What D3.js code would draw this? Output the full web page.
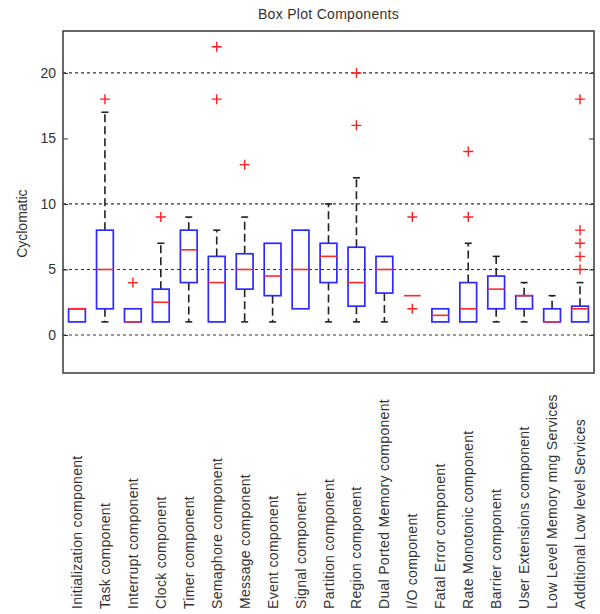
<!DOCTYPE html>
<html>
<head>
<meta charset="utf-8">
<script src="https://cdn.jsdelivr.net/npm/d3@7"></script>
<style>
  body { margin: 0; background: #fff; }
  text { font-family: "Liberation Sans", Arial, sans-serif; fill: #333; }
</style>
</head>
<body>
<div id="chart"></div>
<script>
// Box plot data, one entry per component
var categories = [
    "Initialization component", "Task component", "Interrupt component", "Clock component",
    "Timer component", "Semaphore component", "Message component", "Event component",
    "Signal component", "Partition component", "Region component", "Dual Ported Memory component",
    "I/O component", "Fatal Error component", "Rate Monotonic component", "Barrier component",
    "User Extensions component", "Low Level Memory mng Services", "Additional Low level Services"
];
var q1Values      = [1, 2, 1, 1,   4, 1, 3.5, 3,   2, 4, 2.2, 3.2, 3, 1,   1, 2,   2, 1, 1];
var medianValues  = [2, 5, 1, 2.5, 6.5, 4, 5, 4.5, 5, 6, 4,   5,   3, 1.5, 2, 3.5, 3, 1, 2];
var q3Values      = [2, 8, 2, 3.5, 8, 6, 6.2, 7,   8, 7, 6.7, 6,   3, 2,   4, 4.5, 3, 2, 2.2];
var whiskerLow    = [1, 1, 1, 1,   1, 1, 1,   1,   2, 1, 1,   1,   3, 1,   1, 1,   1, 1, 1];
var whiskerHigh   = [2, 17, 2, 7,  9, 8, 9,   7,   8, 10, 12, 6,   3, 2,   7, 6,   4, 3, 4];
var outliers = [
    [], [18], [4], [9], [], [18, 22], [13], [], [], [], [16, 20], [],
    [9, 2], [], [9, 14], [], [], [], [5, 6, 7, 8, 18]
];
var yTicks = [0, 5, 10, 15, 20];
var gridValues = [0, 5, 10, 20];

function createBoxPlot() {
    var margin = { top: 31, right: 6, bottom: 241, left: 63 };
    var width = 600 - margin.left - margin.right;
    var height = 614 - margin.top - margin.bottom;

    var svg = d3.select("#chart")
        .append("svg")
        .attr("width", 600)
        .attr("height", 614);

    var g = svg.append("g")
        .attr("transform", "translate(" + margin.left + "," + margin.top + ")");

    var xScale = d3.scaleBand()
        .domain(categories)
        .range([0, width]);

    var yScale = d3.scaleLinear()
        .domain([-2.9, 23.2])
        .range([height, 0]);

    var boxW = xScale.bandwidth() * 0.6;
    var capW = 7;

    // grid lines
    g.selectAll(".grid")
        .data(gridValues)
        .enter()
        .append("line")
        .attr("x1", 0).attr("x2", width)
        .attr("y1", function (d) { return yScale(d); })
        .attr("y2", function (d) { return yScale(d); })
        .style("stroke", "#333")
        .style("stroke-width", 1.2)
        .style("stroke-dasharray", "3,3");

    // y axis with inward ticks
    var yAxis = g.append("g")
        .call(d3.axisLeft(yScale).tickValues(yTicks).tickSize(-5).tickPadding(7));
    yAxis.select(".domain").remove();
    yAxis.selectAll("line").style("stroke", "#333");
    yAxis.selectAll("text")
        .style("font-size", "14px")
        .style("fill", "#333")
        .style("font-family", "Liberation Sans, Arial, sans-serif");

    g.append("g")
        .attr("transform", "translate(" + width + ",0)")
        .call(d3.axisRight(yScale).tickValues(yTicks).tickSize(-5).tickFormat(""))
        .call(function (a) { a.select(".domain").remove(); a.selectAll("line").style("stroke", "#333"); });

    var boxes = g.selectAll(".box")
        .data(categories)
        .enter()
        .append("g")
        .attr("transform", function (d) { return "translate(" + (xScale(d) + xScale.bandwidth() / 2) + ",0)"; });

    // whiskers
    boxes.each(function (d, i) {
        var b = d3.select(this);
        var parts = [];
        if (whiskerHigh[i] > q3Values[i]) parts.push([q3Values[i], whiskerHigh[i]]);
        if (whiskerLow[i] < q1Values[i]) parts.push([q1Values[i], whiskerLow[i]]);
        parts.forEach(function (p) {
            b.append("line")
                .attr("x1", 0).attr("x2", 0)
                .attr("y1", yScale(p[0])).attr("y2", yScale(p[1]))
                .style("stroke", "#222")
                .style("stroke-width", 1.6)
                .style("stroke-dasharray", "8,4");
            b.append("line")
                .attr("x1", -capW / 2).attr("x2", capW / 2)
                .attr("y1", yScale(p[1])).attr("y2", yScale(p[1]))
                .style("stroke", "#222")
                .style("stroke-width", 1.6);
        });
    });

    boxes.append("rect")
        .attr("x", -boxW / 2)
        .attr("width", boxW)
        .attr("y", function (d, i) { return yScale(q3Values[i]); })
        .attr("height", function (d, i) { return yScale(q1Values[i]) - yScale(q3Values[i]); })
        .style("fill", "none")
        .style("stroke", "#2a2aff")
        .style("stroke-width", 1.7);

    boxes.append("line")
        .attr("x1", -boxW / 2).attr("x2", boxW / 2)
        .attr("y1", function (d, i) { return yScale(medianValues[i]); })
        .attr("y2", function (d, i) { return yScale(medianValues[i]); })
        .style("stroke", "#ff2a2a")
        .style("stroke-width", 1.6);

    // outliers as red plus signs
    boxes.each(function (d, i) {
        d3.select(this).selectAll(".out")
            .data(outliers[i])
            .enter()
            .append("path")
            .attr("d", function (v) {
                var y = yScale(v);
                return "M-5," + y + "H5M0," + (y - 5) + "V" + (y + 5);
            })
            .style("stroke", "#ff2020")
            .style("stroke-width", 1.4)
            .style("fill", "none");
    });

    // frame
    g.append("rect")
        .attr("width", width)
        .attr("height", height)
        .style("fill", "none")
        .style("stroke", "#444")
        .style("stroke-width", 1.6);

    // x labels, rotated
    g.selectAll(".xlabel")
        .data(categories)
        .enter()
        .append("text")
        .attr("transform", function (d) {
            return "translate(" + (xScale(d) + xScale.bandwidth() / 2 + 5) + "," + (height + 236) + ") rotate(-90)";
        })
        .style("font-size", "14px")
        .style("letter-spacing", "0.3px")
        .text(function (d) { return d; });

    svg.append("text")
        .attr("x", margin.left + width / 2)
        .attr("y", 19)
        .attr("text-anchor", "middle")
        .style("font-size", "14px")
        .style("letter-spacing", "0.3px")
        .text("Box Plot Components");

    svg.append("text")
        .attr("transform", "translate(27," + (margin.top + yScale(8.5)) + ") rotate(-90)")
        .attr("text-anchor", "middle")
        .style("font-size", "14px")
        .text("Cyclomatic");
}

createBoxPlot();
</script>
</body>
</html>
